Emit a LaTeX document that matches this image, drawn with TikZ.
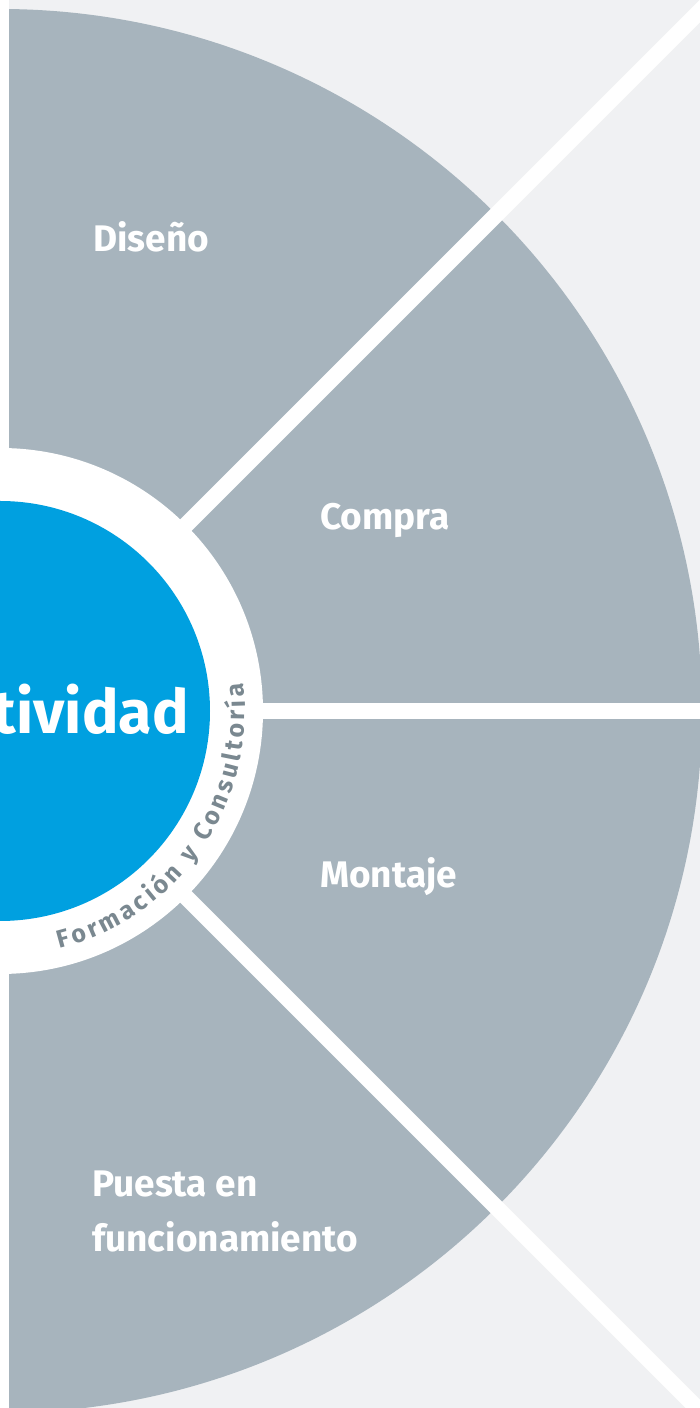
\documentclass[tikz,border=0pt]{standalone}
\usepackage{fontspec}
\setmainfont{Fira Sans}
\usetikzlibrary{decorations.text}
\definecolor{bgc}{HTML}{F0F1F3}
\definecolor{diskc}{HTML}{A7B4BD}
\definecolor{hubc}{HTML}{00A0E0}
\definecolor{ringtxt}{HTML}{7A8890}
\begin{document}
\begin{tikzpicture}[x=1pt,y=1pt,
  lbl/.style={font=\fontsize{37}{55}\selectfont\bfseries, text=white, inner sep=0pt, anchor=base west, align=left},
  band/.style={draw=white, line width=16pt}]
\useasboundingbox (0,0) rectangle (700,1408);
\clip (0,0) rectangle (700,1408);
\fill[bgc] (0,0) rectangle (700,1408);
\fill[white] (0,0) rectangle (9,1408);
\coordinate (c) at (0,697);
\coordinate (ne) at (740,1437);
\coordinate (e) at (740,697);
\coordinate (se) at (740,-43);
\begin{scope}
  \clip (9,0) rectangle (700,1408);
  \fill[diskc] (c) circle[radius=702];
\end{scope}
\draw[band] (c) -- (ne);
\draw[band] (c) -- (e);
\draw[band] (c) -- (se);
\fill[white] (c) circle[radius=263];
\node[circle, fill=hubc, minimum size=420pt, inner sep=0pt] (hub) at (c) {};
\node[font=\fontsize{61}{63}\selectfont\bfseries, text=white, inner sep=0pt, anchor=base east] (hubtxt) at (189,674) {tividad};
\path[decorate, decoration={text along path, text align={fit to path},
  text={|\fontsize{25}{27}\selectfont\bfseries\color{ringtxt}|Formación y Consultoría}}]
  (c) ++(-76:245) arc[start angle=-76, end angle=6.5, radius=245];
\node[lbl] (d1) at (93,1156) {Diseño};
\node[lbl] (d2) at (320,878) {Compra};
\node[lbl] (d3) at (320,520) {Montaje};
\node[lbl] (d4) at (92,156) {Puesta en\\funcionamiento};
\end{tikzpicture}
\end{document}
